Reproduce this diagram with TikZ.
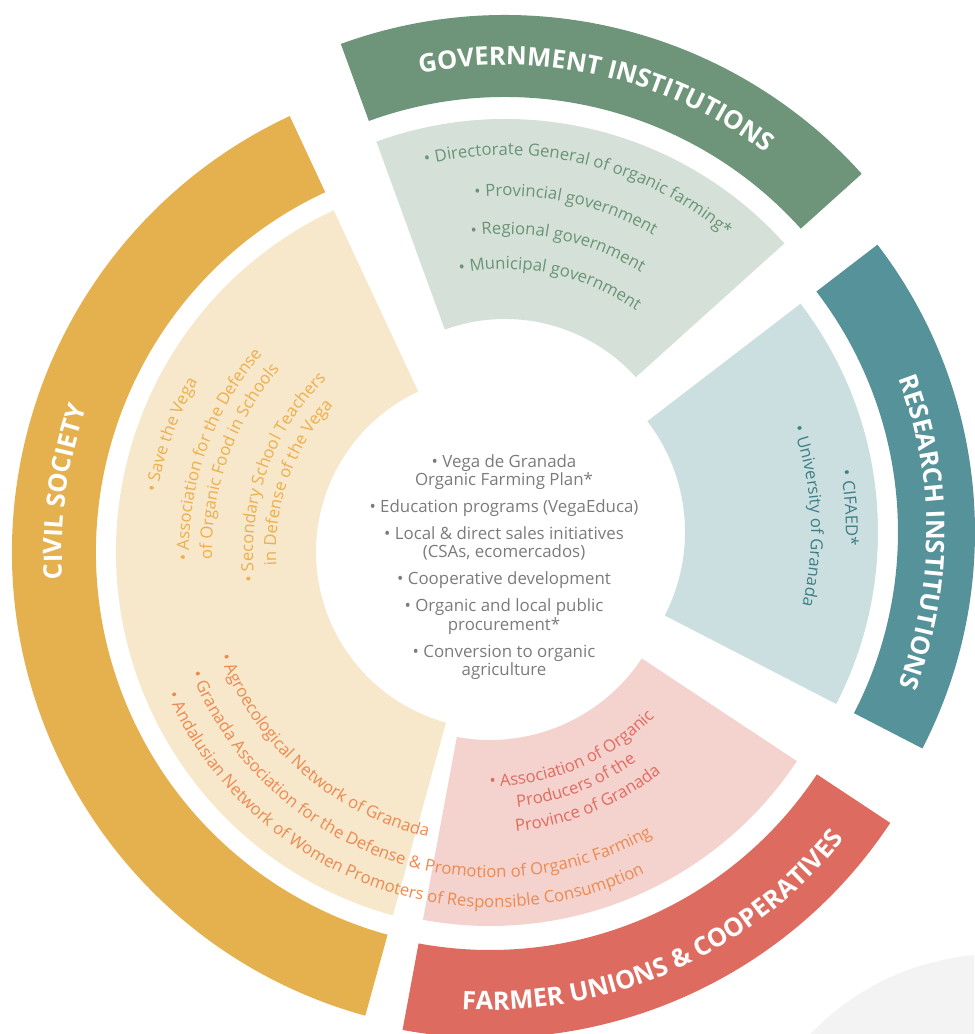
\documentclass[tikz,border=0pt]{standalone}
\usepackage{fontspec}
\setmainfont{Open Sans}
\usetikzlibrary{decorations.text}

\definecolor{civband}{HTML}{E5B14F}
\definecolor{civfill}{HTML}{F7E7CB}
\definecolor{civtext}{HTML}{EDAF4C}
\definecolor{civtextb}{HTML}{EC8A50}
\definecolor{govband}{HTML}{6E957A}
\definecolor{govfill}{HTML}{D5E1D8}
\definecolor{govtext}{HTML}{6A9475}
\definecolor{resband}{HTML}{55929A}
\definecolor{resfill}{HTML}{CBDFE0}
\definecolor{restext}{HTML}{3E7E85}
\definecolor{farmband}{HTML}{DD6B60}
\definecolor{farmfill}{HTML}{F4D3CF}
\definecolor{farmtext}{HTML}{E26A5E}
\definecolor{midgrey}{HTML}{7B7B7B}
\definecolor{haze}{HTML}{F3F3F3}

\tikzset{
  arctext/.style 2 args = {decorate, decoration={text along path, text align=center, text color=#1, text={#2}}},
  lefttext/.style 2 args = {decorate, decoration={text along path, text align=left, text color=#1, text={#2}}},
  hub/.style = {align=center, text=midgrey, font=\fontsize{9.6}{10.4}\selectfont}
}

% ring piece: colour, centre, from, to, inner r, outer r
\newcommand\ringpart[6]{\fill[#1] ([shift={(#3:#5)}]#2) arc[start angle=#3, end angle=#4, radius=#5]
  -- ([shift={(#4:#6)}]#2) arc[start angle=#4, end angle=#3, radius=#6] -- cycle;}
% curved text: centre, mid angle, radius, colour, text
\newcommand\cwtext[5]{\path[arctext={#4}{#5}] ([shift={({#2+55}:#3)}]#1) arc[start angle={#2+55}, end angle={#2-55}, radius=#3];}
\newcommand\ccwtext[5]{\path[arctext={#4}{#5}] ([shift={({#2-55}:#3)}]#1) arc[start angle={#2-55}, end angle={#2+55}, radius=#3];}
\newcommand\ccwleft[5]{\path[lefttext={#4}{#5}] ([shift={(#2:#3)}]#1) arc[start angle=#2, end angle={#2+120}, radius=#3];}

\begin{document}
\begin{tikzpicture}[x=0.02cm, y=0.02cm]
\useasboundingbox (0,0) rectangle (974,1034);
\begin{scope}
  \clip (0,0) rectangle (974,1034);
  \fill[haze] (998,-180) circle[radius=260];
\end{scope}

\coordinate (civ) at (493,482);
\coordinate (gov) at (505,539);
\coordinate (res) at (503,502);
\coordinate (farm) at (490,476);

% inner pieces
\ringpart{civfill}{civ}{115}{254.6}{177}{377}
\ringpart{govfill}{gov}{42}{110}{176}{376}
\ringpart{resfill}{res}{-27.3}{37.5}{182}{375}
\ringpart{farmfill}{farm}{-100.5}{-33.5}{182}{368}
% outer bands
\ringpart{civband}{civ}{115}{254.6}{397}{481}
\ringpart{govband}{gov}{42}{110}{398}{480}
\ringpart{resband}{res}{-27.3}{37.5}{395}{472}
\ringpart{farmband}{farm}{-100.5}{-33.5}{392}{480}

% band titles
\begin{scope}
\fontsize{14.5}{17}\selectfont\bfseries
\cwtext{civ}{172}{431}{white}{CIVIL SOCIETY}
\cwtext{gov}{77}{430}{white}{GOVERNMENT INSTITUTIONS}
\cwtext{res}{0}{424}{white}{RESEARCH INSTITUTIONS}
\ccwtext{farm}{-66}{452}{white}{FARMER UNIONS {\&} COOPERATIVES}
\end{scope}

% members
\begin{scope}
\fontsize{9.5}{11}\selectfont
\cwtext{gov}{76.5}{340}{govtext}{• Directorate General of organic farming*}
\cwtext{gov}{78}{299}{govtext}{• Provincial government}
\cwtext{gov}{78}{261}{govtext}{• Regional government}
\cwtext{gov}{78}{226}{govtext}{• Municipal government}
\cwtext{res}{4}{343}{restext}{• CIFAED*}
\cwtext{res}{3}{308}{restext}{• University of Granada}
\ccwtext{farm}{-67}{228.5}{farmtext}{• Association of Organic}
\ccwtext{farm}{-69}{250.5}{farmtext}{Producers of the}
\ccwtext{farm}{-68}{274.5}{farmtext}{Province of Granada}
\cwtext{civ}{160}{341}{civtext}{• Save the Vega}
\cwtext{civ}{160.5}{304}{civtext}{• Association for the Defense}
\cwtext{civ}{160.5}{281}{civtext}{of Organic Food in Schools}
\cwtext{civ}{160.5}{240}{civtext}{• Secondary School Teachers}
\cwtext{civ}{160.5}{217}{civtext}{in Defense of the Vega}
\ccwleft{civ}{201}{292.5}{civtextb}{• Agroecological Network of Granada}
\ccwleft{civ}{202}{325.5}{civtextb}{• Granada Association for the Defense {\&} Promotion of Organic Farming}
\ccwleft{civ}{203.7}{355.5}{civtextb}{• Andalusian Network of Women Promoters of Responsible Consumption}
\end{scope}

\node[hub] (plan) at (504,467) {• Vega de Granada\\Organic Farming Plan*\\[5pt]
  • Education programs (VegaEduca)\\[5pt]
  • Local \& direct sales initiatives\\(CSAs, ecomercados)\\[5pt]
  • Cooperative development\\[5pt]
  • Organic and local public\\procurement*\\[5pt]
  • Conversion to organic\\agriculture};
\end{tikzpicture}
\end{document}
